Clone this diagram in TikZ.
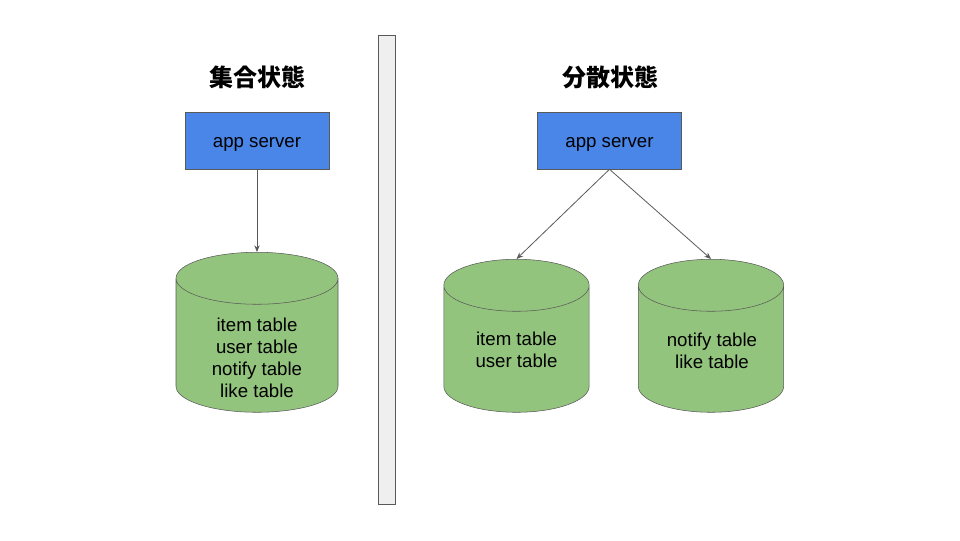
\documentclass[tikz,border=0pt]{standalone}
\usepackage{fontspec}
\setmainfont{Liberation Sans}
\newfontfamily\cjk{Noto Sans CJK JP}
\usepackage{tikz}
\usetikzlibrary{positioning,shapes.geometric,arrows.meta}

\definecolor{srvblue}{HTML}{4A86E8}
\definecolor{dbgreen}{HTML}{93C47D}
\definecolor{edgegray}{HTML}{595959}
\definecolor{wallgray}{HTML}{EFEFEF}

\begin{document}
\begin{tikzpicture}[
    x=0.75pt, y=-0.75pt,
    title/.style={
        font=\cjk\bfseries\fontsize{18pt}{22pt}\selectfont
    },
    server/.style={
        rectangle,
        draw=edgegray,
        fill=srvblue,
        minimum width=108pt,
        minimum height=42.75pt,
        text height=9.75pt,
        text depth=0pt,
        font=\fontsize{14pt}{16.5pt}\selectfont
    },
    db/.style={
        cylinder,
        shape border rotate=90,
        shape aspect=0.52,
        text width=75pt,
        inner sep=0pt,
        draw=edgegray,
        fill=dbgreen,
        anchor=north
    },
    tables/.style={
        align=center,
        inner sep=0pt,
        font=\fontsize{14pt}{16.5pt}\selectfont
    },
    wall/.style={
        rectangle,
        draw=edgegray,
        fill=wallgray,
        minimum width=12.75pt,
        minimum height=351.75pt
    },
    link/.style={
        draw=edgegray,
        line width=0.6pt,
        -{Stealth[length=5pt,width=4pt]}
    }
]
\useasboundingbox (0,0) rectangle (960,540);

% ------------------------------------------------------------
% Divider
% ------------------------------------------------------------

\node[wall] (divider) at (386.5,269.5) {};

% ------------------------------------------------------------
% Left: single database
% ------------------------------------------------------------

\node[title] (titleA) at (257,77) {集合状態};

\node[server] (srvA) at (257,140.5) {app server};

\node[db, minimum width=121.5pt, minimum height=120pt] (dbA) at (257,252) {};
\node[tables] (tablesA) at (257,357.5)
    {item table\\user table\\notify table\\like table};

\draw[link] (srvA.south) -- (dbA.north);

% ------------------------------------------------------------
% Right: split databases
% ------------------------------------------------------------

\node[title] (titleB) at (610,77) {分散状態};

\node[server] (srvB) at (609.5,140.5) {app server};

\node[db, minimum width=109pt, minimum height=114.75pt] (dbB) at (516.5,259) {};
\node[tables] (tablesB) at (516.5,350) {item table\\user table};

\node[db, minimum width=109pt, minimum height=114.75pt] (dbC) at (711,259) {};
\node[tables] (tablesC) at (712,351) {notify table\\like table};

\draw[link] (srvB.south) -- (dbB.north);
\draw[link] (srvB.south) -- (dbC.north);

\end{tikzpicture}
\end{document}
